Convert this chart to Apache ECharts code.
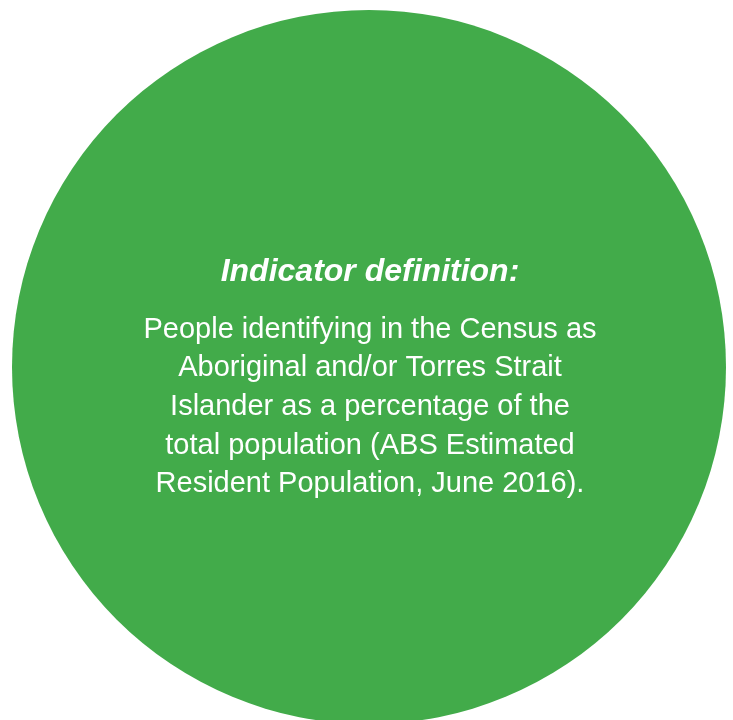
<!DOCTYPE html>
<html>
<head>
<meta charset="utf-8">
<script src="https://cdn.jsdelivr.net/npm/echarts@6/dist/echarts.min.js"></script>
<style>html,body{margin:0;padding:0;background:#fff;}#c{width:733px;height:720px;}</style>
</head>
<body>
<div id="c"></div>
<script>
var sliceNames = ['Indicator definition'];
var sliceValues = [1];
var headingText = 'Indicator definition:';
var bodyLines = [
  'People identifying in the Census as',
  'Aboriginal and/or Torres Strait',
  'Islander as a percentage of the',
  'total population (ABS Estimated',
  'Resident Population, June 2016).'
];
var chart = echarts.init(document.getElementById('c'));
var graphics = [{
  type: 'text', z: 100, x: 370, y: 272,
  style: { text: headingText, fill: '#fff', font: 'italic bold 32px "Liberation Sans", Arial, sans-serif', textAlign: 'center', textVerticalAlign: 'middle' }
}];
bodyLines.forEach(function (t, i) {
  graphics.push({
    type: 'text', z: 100, x: 370, y: 329.5 + i * 38.7,
    style: { text: t, fill: '#fff', font: '29px "Liberation Sans", Arial, sans-serif', textAlign: 'center', textVerticalAlign: 'middle' }
  });
});
chart.setOption({
  animation: false,
  series: [{
    type: 'pie', silent: true, z: 1, center: [369, 367], radius: [0, 357],
    label: { show: false }, labelLine: { show: false },
    itemStyle: { color: '#42ab4a', borderWidth: 0 },
    data: sliceNames.map(function (n, i) { return { name: n, value: sliceValues[i] }; })
  }],
  graphic: graphics
});
</script>
</body>
</html>
